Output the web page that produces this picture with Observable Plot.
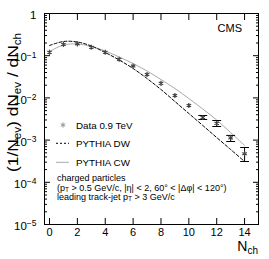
<!DOCTYPE html>
<html><head><meta charset="utf-8">
<script src="https://cdn.jsdelivr.net/npm/d3@7"></script>
<script src="https://cdn.jsdelivr.net/npm/@observablehq/plot@0.6"></script>
<style>body{margin:0;background:#fff} svg{font-family:"Liberation Sans",Arial,sans-serif}</style>
</head><body><div id="chart"></div>
<script>
const nch = [0,1,2,3,4,5,6,7,8,9,10,11,12,13,14];
const dataVal = [0.121,0.184,0.191,0.159,0.121,0.0826,0.0569,0.0359,0.0221,0.0114,0.00659,0.00343,0.00249,0.00113,0.000475];
const errLo = [0.116,0.177,0.184,0.153,0.116,0.079,0.0545,0.0343,0.0211,0.0108,0.0062,0.00308,0.0021,0.000926,0.000311];
const errHi = [0.126,0.191,0.198,0.165,0.126,0.0862,0.0594,0.0375,0.0231,0.012,0.007,0.00383,0.00291,0.00129,0.000668];
const cwVal = [0.1258,0.1793,0.1894,0.1652,0.1293,0.0931,0.0653,0.0434,0.0273,0.0167,0.00967,0.00546,0.00299,0.00151,0.000745];
const dwVal = [0.1745,0.217,0.2112,0.1698,0.119,0.0791,0.0497,0.0288,0.0158,0.00822,0.00427,0.00222,0.00115,0.000599,0.000311];
const xTicks = [0,2,4,6,8,10,12,14];
const yMajor = [1e-5,1e-4,1e-3,1e-2,1e-1,1];
const yLabels = ["10^-5","10^-4","10^-3","10^-2","10^-1","1"];
const yMinor = [];
for (let e = -5; e < 0; e++) for (let k = 2; k <= 9; k++) yMinor.push(k * Math.pow(10, e));

const pts = nch.map((n, i) => ({n, v: dataVal[i], lo: errLo[i], hi: errHi[i]}));
const cw = nch.map((n, i) => ({n, v: cwVal[i]}));
const dw = nch.map((n, i) => ({n, v: dwVal[i]}));

const capSymbol = {draw(ctx, size) { const w = Math.sqrt(size); ctx.moveTo(-w, 0); ctx.lineTo(w, 0); }};
const noText = () => "";
const bigErr = d => d.n >= 11;

const plot = Plot.plot({
  width: 269, height: 259,
  marginLeft: 44, marginRight: 11, marginTop: 13, marginBottom: 35,
  style: {fontFamily: '"Liberation Sans", Arial, sans-serif', background: "white", color: "black"},
  x: {domain: [-0.36, 15]},
  y: {type: "log", domain: [1e-5, 1]},
  marks: [
    Plot.axisX(xTicks, {anchor: "bottom", tickSize: -6, tickFormat: noText, label: null}),
    Plot.axisX(xTicks, {anchor: "top", tickSize: -6, tickFormat: noText, label: null}),
    Plot.axisX(xTicks, {anchor: "bottom", tickSize: 0, tickPadding: 4, fontSize: 11, label: null, tickFormat: d => String(d)}),
    Plot.axisY(yMajor, {anchor: "left", tickSize: -6, tickFormat: noText, label: null}),
    Plot.axisY(yMajor, {anchor: "right", tickSize: -6, tickFormat: noText, label: null}),
    Plot.axisY(yMinor, {anchor: "left", tickSize: -3, tickFormat: noText, label: null}),
    Plot.axisY(yMinor, {anchor: "right", tickSize: -3, tickFormat: noText, label: null}),
    Plot.axisY(yMajor, {anchor: "left", tickSize: 0, tickPadding: 8, fontSize: 11.5, label: null, dy: 2,
      tickFormat: d => yLabels[yMajor.indexOf(d)]}),
    Plot.line(cw, {x: "n", y: "v", stroke: "#aaa", strokeWidth: 1, curve: "catmull-rom"}),
    Plot.line(dw, {x: "n", y: "v", stroke: "black", strokeWidth: 1, strokeDasharray: "3,2", curve: "catmull-rom"}),
    Plot.ruleX(pts, {x: "n", y1: "lo", y2: "hi", stroke: "black", strokeWidth: 1}),
    Plot.dot(pts, {filter: bigErr, x: "n", y: "lo", symbol: capSymbol, r: 2.5, stroke: "black", strokeWidth: 1}),
    Plot.dot(pts, {filter: bigErr, x: "n", y: "hi", symbol: capSymbol, r: 2.5, stroke: "black", strokeWidth: 1}),
    Plot.dot(pts, {x: "n", y: "v", symbol: "asterisk", r: 2.4, stroke: "#444", strokeWidth: 1.2}),
    Plot.frame({stroke: "black", strokeWidth: 1})
  ]
});
document.getElementById("chart").appendChild(plot);

const svg = d3.select(plot);
svg.selectAll("g[aria-label='y-axis tick label'] text").each(function() {
  const t = d3.select(this);
  const s = t.text();
  if (s.includes("^")) {
    const [b, e] = s.split("^");
    t.text("");
    t.append("tspan").text(b);
    t.append("tspan").attr("dy", "-0.45em").attr("font-size", "8.5px").text(e.replace("-", "−"));
  }
});

const ns = svg.append("g").attr("fill", "black");
const yt = ns.append("text").attr("transform", "translate(18,102.5) rotate(-90)")
  .attr("text-anchor", "middle").attr("font-size", "15px")
  .attr("textLength", 139).attr("lengthAdjust", "spacingAndGlyphs");
const sub = (el, s) => el.append("tspan").attr("font-size", "10px").attr("dy", "3").text(s);
const nor = (el, s) => el.append("tspan").attr("font-size", "15px").attr("dy", "-3").text(s);
yt.append("tspan").text("(1/N");
sub(yt, "ev"); nor(yt, ") dN"); sub(yt, "ev"); nor(yt, " / dN"); sub(yt, "ch");

const xt = ns.append("text").attr("x", 258).attr("y", 251).attr("text-anchor", "end").attr("font-size", "14px");
xt.append("tspan").text("N");
xt.append("tspan").attr("font-size", "10px").attr("dy", "3").text("ch");

ns.append("text").attr("x", 242).attr("y", 32).attr("text-anchor", "end").attr("font-size", "11px").text("CMS");

const lg = svg.append("g").attr("font-size", "9.8px").attr("text-anchor", "start");
lg.append("path").attr("d", d3.symbol(d3.symbolAsterisk, 20)()).attr("transform", "translate(63,125)")
  .attr("stroke", "#999").attr("stroke-width", 1).attr("fill", "none");
lg.append("text").attr("x", 76).attr("y", 128.5).text("Data 0.9 TeV");
lg.append("line").attr("x1", 56).attr("x2", 69).attr("y1", 143.3).attr("y2", 143.3)
  .attr("stroke", "black").attr("stroke-dasharray", "2,2");
lg.append("text").attr("x", 76).attr("y", 147).text("PYTHIA DW");
lg.append("line").attr("x1", 56).attr("x2", 69).attr("y1", 162.3).attr("y2", 162.3)
  .attr("stroke", "#aaa");
lg.append("text").attr("x", 76).attr("y", 166).text("PYTHIA CW");

const an = svg.append("g").attr("font-size", "9px").attr("text-anchor", "start");
an.append("text").attr("x", 57).attr("y", 181).text("charged particles");
const l2 = an.append("text").attr("x", 57).attr("y", 190.5);
l2.append("tspan").text("(p");
l2.append("tspan").attr("font-size", "6.5px").attr("dy", "1.5").text("T");
l2.append("tspan").attr("dy", "-1.5").text(" > 0.5 GeV/c, |η| < 2, 60° < |Δφ| < 120°)");
const l3 = an.append("text").attr("x", 57).attr("y", 199.5);
l3.append("tspan").text("leading track-jet p");
l3.append("tspan").attr("font-size", "6.5px").attr("dy", "1.5").text("T");
l3.append("tspan").attr("dy", "-1.5").text(" > 3 GeV/c");
</script></body></html>
